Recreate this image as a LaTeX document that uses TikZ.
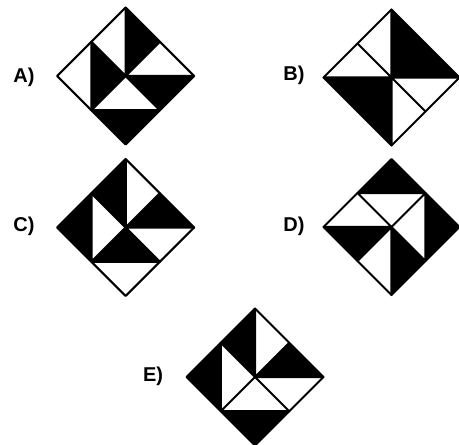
\documentclass[tikz,border=0pt]{standalone}
\usepackage{fontspec}
\setmainfont{Liberation Sans}
\newcommand\mkdia[4]{%
  \coordinate (#1O) at (#2,#3);
  \coordinate (#1T) at (#2,{#3-#4});
  \coordinate (#1B) at (#2,{#3+#4});
  \coordinate (#1L) at ({#2-#4},#3);
  \coordinate (#1R) at ({#2+#4},#3);
  \coordinate (#1tr) at ({#2+#4/2},{#3-#4/2});
  \coordinate (#1rb) at ({#2+#4/2},{#3+#4/2});
  \coordinate (#1bl) at ({#2-#4/2},{#3+#4/2});
  \coordinate (#1lt) at ({#2-#4/2},{#3-#4/2});
}
\begin{document}
\begin{tikzpicture}[x=1pt,y=-1pt,
  edge/.style={line width=2.1pt, line join=round, line cap=round},
  lbl/.style={font=\bfseries\fontsize{20}{20}\selectfont, inner sep=0pt}]
\useasboundingbox (0,0) rectangle (459,445);
\fill[white] (0,0) rectangle (459,445);

\mkdia{A}{125.7}{76}{68.5}
\mkdia{B}{391.5}{77.5}{68}
\mkdia{C}{125.7}{227.5}{68.5}
\mkdia{D}{391.5}{227}{68}
\mkdia{E}{255}{377}{68.5}

% A
\fill (AT) -- (Atr) -- (AO) -- cycle;
\fill (Alt) -- (AO) -- (Abl) -- cycle;
\fill (AO) -- (AR) -- (Arb) -- cycle;
\fill (Abl) -- (Arb) -- (AB) -- cycle;
\draw[edge] (AT) -- (AR) -- (AB) -- (AL) -- cycle;
\draw[edge] (Alt) -- (Arb) (Atr) -- (Abl) (AT) -- (AO) (Alt) -- (Abl) (AO) -- (AR) (Abl) -- (Arb);

% B
\fill (BT) -- (BR) -- (BO) -- cycle;
\fill (BL) -- (BO) -- (BB) -- cycle;
\draw[edge] (BT) -- (BR) -- (BB) -- (BL) -- cycle;
\draw[edge] (Blt) -- (Brb) (Btr) -- (Bbl) (BT) -- (BB) (BL) -- (BR);

% C
\fill (CT) -- (CO) -- (Clt) -- cycle;
\fill (CL) -- (Clt) -- (Cbl) -- cycle;
\fill (Ctr) -- (CR) -- (CO) -- cycle;
\fill (CO) -- (Crb) -- (Cbl) -- cycle;
\draw[edge] (CT) -- (CR) -- (CB) -- (CL) -- cycle;
\draw[edge] (Clt) -- (Crb) (Ctr) -- (Cbl) (CT) -- (CO) (Clt) -- (Cbl) (CO) -- (CR) (Cbl) -- (Crb);

% D
\fill (DT) -- (Dtr) -- (Dlt) -- cycle;
\fill (DL) -- (DO) -- (Dbl) -- cycle;
\fill (Dtr) -- (DR) -- (Drb) -- cycle;
\fill (DO) -- (Drb) -- (DB) -- cycle;
\draw[edge] (DT) -- (DR) -- (DB) -- (DL) -- cycle;
\draw[edge] (Dlt) -- (Drb) (Dtr) -- (Dbl) (Dlt) -- (Dtr) (DL) -- (DO) (Dtr) -- (Drb) (DO) -- (DB);

% E
\fill (ET) -- (EO) -- (Elt) -- cycle;
\fill (EL) -- (Elt) -- (Ebl) -- cycle;
\fill (Etr) -- (ER) -- (EO) -- cycle;
\fill (Ebl) -- (Erb) -- (EB) -- cycle;
\draw[edge] (ET) -- (ER) -- (EB) -- (EL) -- cycle;
\draw[edge] (Elt) -- (Erb) (Etr) -- (Ebl) (ET) -- (EO) (Elt) -- (Ebl) (EO) -- (ER) (Ebl) -- (Erb);

% labels
\node[lbl] (la) at (24,77.5) {A)};
\node[lbl] (lb) at (294,75.5) {B)};
\node[lbl] (lc) at (24,226) {C)};
\node[lbl] (ld) at (294,226) {D)};
\node[lbl] (le) at (153,376.5) {E)};
\end{tikzpicture}
\end{document}
